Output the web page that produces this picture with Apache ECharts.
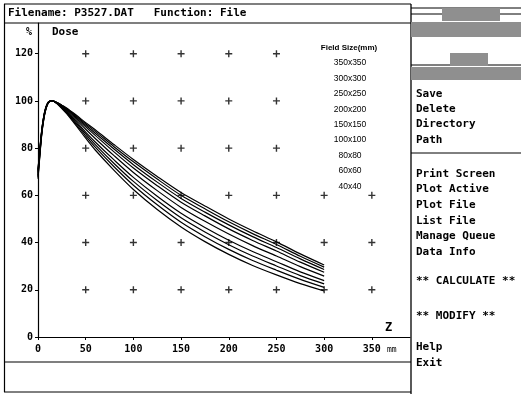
<!DOCTYPE html>
<html><head><meta charset="utf-8">
<script src="https://cdn.jsdelivr.net/npm/echarts@6/dist/echarts.min.js"></script>
<style>html,body{margin:0;padding:0;background:#fff;}#c{width:521px;height:394px;}</style>
</head><body><div id="c"></div>
<script>
// depth (mm)
const depths = [0,2,4,6,8,10,12,15,20,25,30,40,50,60,80,100,125,150,175,200,225,250,275,300];
// relative dose (%) per field size
const fieldSizes = ['350x350','300x300','250x250','200x200','150x150','100x100','80x80','60x60','40x40'];
const dose350 = [71,80,88,93.5,97,99,99.8,100,99.3,98.2,97,94,90.8,87.8,81.4,75.2,68,61.2,55.5,50,45,40.3,35.2,30.5];
const dose300 = [70.7,79.8,87.8,93.4,96.9,99,99.8,100,99.3,98.1,96.8,93.6,90.3,87.1,80.5,74.2,66.9,60,54.3,48.8,43.8,39.2,34.2,29.6];
const dose250 = [70.3,79.5,87.7,93.2,96.8,98.9,99.8,100,99.2,98,96.6,93.2,89.7,86.3,79.5,73,65.6,58.7,52.9,47.5,42.5,37.9,33.1,28.6];
const dose200 = [69.9,79.2,87.4,93.1,96.7,98.9,99.8,100,99.2,97.8,96.3,92.7,89,85.4,78.3,71.6,64.1,57.1,51.3,45.8,40.9,36.4,31.7,27.4];
const dose150 = [69.3,78.7,87.1,92.9,96.6,98.8,99.8,100,99.1,97.6,96,92.1,88,84.1,76.7,69.7,62,54.9,49,43.6,38.7,34.3,29.8,25.8];
const dose100 = [68.6,78.2,86.8,92.6,96.4,98.7,99.7,100,99,97.4,95.6,91.3,86.8,82.6,74.9,67.6,59.6,52.4,46.4,41,36.2,31.9,27.6,23.9];
const dose80  = [68.1,77.8,86.5,92.4,96.3,98.6,99.7,100,98.9,97.2,95.2,90.7,86,81.5,73.4,65.9,57.8,50.5,44.5,39.1,34.3,30.1,26,22.5];
const dose60  = [67.6,77.4,86.3,92.2,96.1,98.6,99.7,100,98.9,97,94.9,90.1,85.1,80.4,72,64.3,56,48.6,42.5,37.1,32.4,28.3,24.4,21];
const dose40  = [67,77,86,92,96,98.5,99.7,100,98.8,96.8,94.6,89.5,84.2,79.2,70.5,62.5,54,46.6,40.4,35,30.3,26.3,22.6,19.5];
const doseSeries = [dose350,dose300,dose250,dose200,dose150,dose100,dose80,dose60,dose40];
// grid "+" marks
const plusX = [50,100,150,200,250,300,350];
const plusY = [20,40,60,80,100,120];
const xTicks = [0,50,100,150,200,250,300,350];
const yTicks = [0,20,40,60,80,100,120];
const menuTop = ['Save','Delete','Directory','Path'];
const menuMid = ['Print Screen','Plot Active','Plot File','List File','Manage Queue','Data Info'];

const chart = echarts.init(document.getElementById('c'), null, {renderer:'canvas'});
const mono = 'DejaVu Sans Mono';

const plusData = [];
plusY.forEach(y => plusX.forEach(x => { if (!(y >= 80 && x >= 300)) plusData.push([x, y]); }));

const series = [{
  type:'scatter', data: plusData, symbol:'path://M-0.2,-1H0.2V1H-0.2Z M-1,-0.2H1V0.2H-1Z',
  symbolSize:7, itemStyle:{color:'#000'}, silent:true, z:1
}];
doseSeries.forEach((arr, i) => {
  series.push({
    type:'line', name: fieldSizes[i], data: depths.map((d, k) => [d, arr[k]]),
    smooth:0.3, symbol:'none', lineStyle:{color:'#000', width:1.2}, z:2, silent:true
  });
});

const g = [];
const line = (x1,y1,x2,y2,w) => g.push({type:'line', shape:{x1,y1,x2,y2}, style:{stroke:'#000', lineWidth:w||1}, silent:true});
const txt = (x,y,t,opt) => g.push({type:'text', x, y, style:Object.assign({text:t, fill:'#000', font:'bold 11px "'+mono+'"', textVerticalAlign:'middle'}, opt||{}), silent:true});
const dither = (x,y,w,h) => g.push({type:'rect', shape:{x,y,width:w,height:h}, style:{fill:'#8f8f8f'}, silent:true});

// frame lines
line(4,4,411,4,1.2); line(4,23,411,23,1.2); line(4.5,4,4.5,392,1.2);
line(411,4,411,394,1.3);
line(4,362,411,362,1.2); line(4,392,411,392,1);
// right panel decorations
line(411,8,521,8,1); line(411,14,442,14,1); line(500,14,521,14,1);
dither(442,8,58,13); dither(411,22,110,15);
line(411,65,450,65,1); line(488,65,521,65,1);
dither(450,53,38,13); dither(411,67,110,13);
line(411,153,521,153,1);

txt(8,13,'Filename: P3527.DAT   Function: File');
txt(26,32,'%',{font:'bold 10px "'+mono+'"'});
txt(52,32,'Dose');
txt(385,328,'Z',{font:'bold 12px "'+mono+'"'});
txt(387,350,'mm',{font:'8px "'+mono+'"'});

// legend
txt(349,48,'Field Size(mm)',{font:'bold 8px "Liberation Sans"', textAlign:'center'});
fieldSizes.forEach((f,i) => txt(350, 63 + i*15.4, f, {font:'8.5px "Liberation Sans"', textAlign:'center'}));

// menu
menuTop.forEach((m,i) => txt(416, 94 + i*15.3, m));
menuMid.forEach((m,i) => txt(416, 174 + i*15.6, m));
txt(416,281,'** CALCULATE **');
txt(416,316,'** MODIFY **');
txt(416,347,'Help');
txt(416,363,'Exit');

chart.setOption({
  backgroundColor:'#fff',
  animation:false,
  grid:{left:38, top:23, width:372, height:314},
  xAxis:{type:'value', min:0, max:390, interval:50,
    axisLine:{lineStyle:{color:'#000', width:1.2}}, axisTick:{show:true, length:3, lineStyle:{color:'#000'}},
    axisLabel:{color:'#000', fontFamily:mono, fontWeight:'bold', fontSize:10, margin:7, showMaxLabel:false,
      formatter: v => xTicks.includes(v) ? String(v) : ''},
    splitLine:{show:false}},
  yAxis:{type:'value', min:0, max:133, interval:20,
    axisLine:{show:true, lineStyle:{color:'#000', width:1.2}}, axisTick:{show:true, length:3, lineStyle:{color:'#000'}},
    axisLabel:{color:'#000', fontFamily:mono, fontWeight:'bold', fontSize:10, margin:5, showMaxLabel:false,
      formatter: v => yTicks.includes(v) ? String(v) : ''},
    splitLine:{show:false}},
  series: series,
  graphic: g
});
</script></body></html>
